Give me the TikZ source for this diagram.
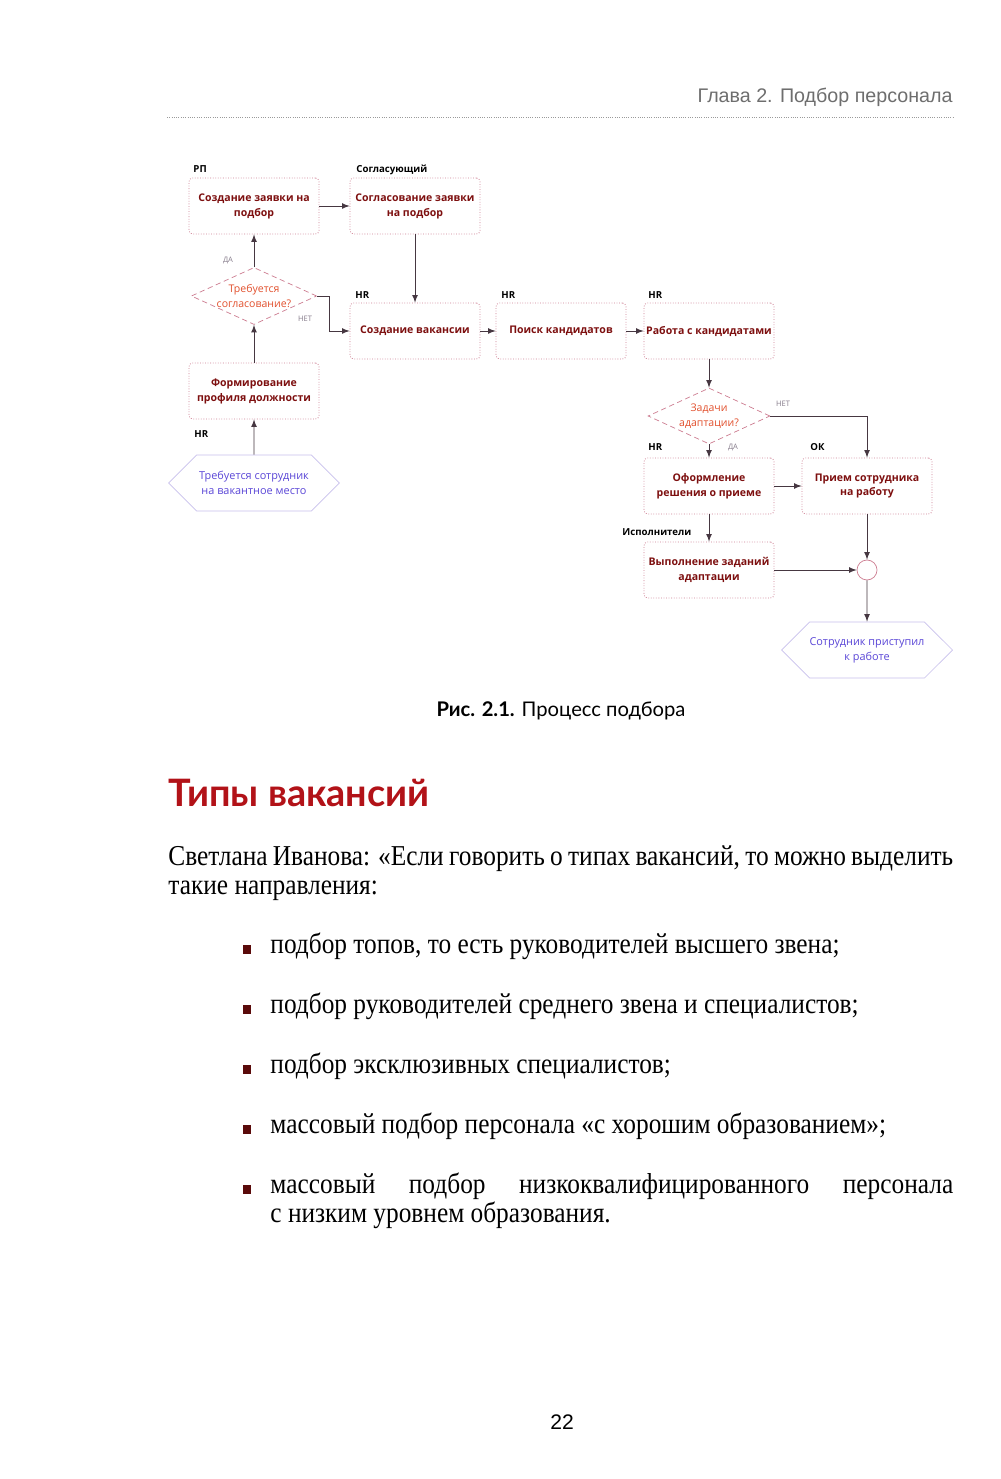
\documentclass[tikz,border=0pt]{standalone}
\usepackage{fontspec}
\setmainfont{Liberation Serif}
\newfontfamily\diafont{Open Sans}
\newfontfamily\capfont{Lato}
\newfontfamily\pagefont{Liberation Sans}
\newfontfamily\bodyfont[FakeStretch=0.88]{Liberation Serif}
\usetikzlibrary{shapes.geometric,shapes.symbols,positioning}
\hyphenpenalty=10000

\definecolor{framepink}{RGB}{205,125,145}
\definecolor{boxtext}{RGB}{125,15,15}
\definecolor{asktext}{RGB}{226,80,45}
\definecolor{eventblue}{RGB}{90,70,215}
\definecolor{eventline}{RGB}{200,192,236}
\definecolor{flowline}{RGB}{70,55,65}
\definecolor{notegray}{RGB}{135,125,140}
\definecolor{headred}{RGB}{178,18,24}
\definecolor{bulletred}{RGB}{90,10,10}
\definecolor{pagegray}{RGB}{110,110,110}

\begin{document}
\begin{tikzpicture}[x=0.02cm,y=-0.02cm,>=latex,line width=0.5pt,
  proc/.style={draw=framepink,densely dotted,line width=0.45pt,rounded corners=2pt,
    minimum width=2.6cm,minimum height=1.12cm,inner sep=1pt,align=center,
    text=boxtext,font=\diafont\bfseries\fontsize{6}{8.5}\selectfont},
  ask/.style={diamond,draw=framepink,densely dashed,line width=0.4pt,aspect=2.2,
    inner sep=0pt,minimum width=2.44cm,minimum height=1.12cm,align=center,
    text=asktext,font=\diafont\fontsize{6}{8.5}\selectfont},
  event/.style={signal,signal to=west and east,draw=eventline,line width=0.4pt,
    minimum width=3.42cm,minimum height=1.12cm,inner sep=0pt,align=center,
    text=eventblue,font=\diafont\fontsize{6.2}{8.5}\selectfont},
  joindot/.style={circle,draw=framepink,line width=0.4pt,minimum size=0.4cm,inner sep=0pt},
  role/.style={font=\diafont\bfseries\fontsize{5.5}{6}\selectfont,inner sep=0pt,anchor=base west},
  answer/.style={font=\diafont\fontsize{4.3}{5}\selectfont,text=notegray,inner sep=0pt},
  flow/.style={->,draw=flowline,line width=0.5pt},
  bodytext/.style={font=\bodyfont\fontsize{16.4}{16.7}\selectfont,
    inner sep=0pt,align=justify,anchor=base west},
  bulletsq/.style={fill=bulletred,minimum width=0.16cm,minimum height=0.17cm,inner sep=0pt,anchor=south},
]
  \fill[white] (0,0) rectangle (1000,1479);
  \useasboundingbox (0,0) rectangle (1000,1479);

  % running head
  \node[font=\pagefont\fontsize{11.2}{13}\selectfont,text=pagegray,anchor=base east,inner sep=0pt]
    (chapter) at (953,103) {Глава 2. Подбор персонала};
  \coordinate (ruleL) at (167,117);
  \coordinate (ruleR) at (953,117);
  \draw[pagegray!70,line width=0.3pt,densely dotted] (ruleL) -- (ruleR);

  % first row
  \node[proc] (zayavka) at (254,206) {Создание заявки на\\подбор};
  \node[proc] (soglas) at (415,206) {Согласование заявки\\на подбор};
  \node[role] (rpLbl) at (193,173) {РП};
  \node[role] (soglLbl) at (356,173) {Согласующий};

  % left column
  \node[ask] (nuzhno) at (254,296) {Требуется\\согласование?};
  \node[proc] (profil) at (254,391) {Формирование\\профиля должности};
  \node[event] (start) at (254,483) {Требуется сотрудник\\на вакантное место};
  \node[role] (hrProf) at (194,438) {HR};
  \node[answer] (daA) at (228,260) {ДА};
  \node[answer] (netA) at (305,319) {НЕТ};

  % HR row
  \node[proc] (vakans) at (415,331) {Создание вакансии};
  \node[proc] (poisk) at (561,331) {Поиск кандидатов};
  \node[proc] (rabota) at (709,331) {Работа с кандидатами};
  \node[role] (hrVak) at (355,299) {HR};
  \node[role] (hrPoisk) at (501,299) {HR};
  \node[role] (hrRab) at (648,299) {HR};

  % adaptation
  \node[ask] (adapt) at (709,416) {Задачи\\адаптации?};
  \node[proc] (reshenie) at (709,486) {Оформление\\решения о приеме};
  \node[proc] (priem) at (867,486) {Прием сотрудника\\на работу};
  \node[proc] (zadania) at (709,570) {Выполнение заданий\\адаптации};
  \node[joindot] (sliyanie) at (867,570) {};
  \node[event] (finish) at (867,650) {Сотрудник приступил\\к работе};
  \node[role] (hrResh) at (648,451) {HR};
  \node[role] (okLbl) at (810,451) {ОК};
  \node[role] (ispLbl) at (622,535) {Исполнители};
  \node[answer] (netB) at (783,404) {НЕТ};
  \node[answer] (daB) at (733,447) {ДА};

  % connectors
  \draw[flow] (zayavka) -- (soglas);
  \draw[flow] (soglas) -- (vakans);
  \draw[flow] (nuzhno) -- (zayavka);
  \draw[flow] (profil) -- (nuzhno);
  \draw[flow] (start) -- (profil);
  \draw[flow] (nuzhno.east) -- ++(12,0) |- (vakans.west);
  \draw[flow] (vakans) -- (poisk);
  \draw[flow] (poisk) -- (rabota);
  \draw[flow] (rabota) -- (adapt);
  \draw[flow] (adapt) -- (reshenie);
  \draw[flow] (adapt.east) -| (priem.north);
  \draw[flow] (reshenie) -- (priem);
  \draw[flow] (reshenie) -- (zadania);
  \draw[flow] (zadania) -- (sliyanie);
  \draw[flow] (priem) -- (sliyanie);
  \draw[flow] (sliyanie) -- (finish);

  % caption and heading
  \node[font=\capfont\fontsize{11.5}{13}\selectfont,anchor=base,inner sep=0pt]
    (caption) at (561,716) {\textbf{Рис. 2.1.} Процесс подбора};
  \node[font=\capfont\bfseries\fontsize{21.5}{25}\selectfont,text=headred,anchor=base west,inner sep=0pt]
    (heading) at (168,806) {Типы вакансий};

  % body text
  \node[bodytext,text width=15.7cm] (intro) at (168,865)
    {Светлана Иванова: «Если говорить о типах вакансий, то можно выделить\linebreak такие направления:};

  \node[bulletsq] (sq1) at (247,954) {};
  \node[bodytext,text width=13.66cm] (item1) at (270,953) {подбор топов, то есть руководителей высшего звена;};
  \node[bulletsq] (sq2) at (247,1014) {};
  \node[bodytext,text width=13.66cm] (item2) at (270,1013) {подбор руководителей среднего звена и специалистов;};
  \node[bulletsq] (sq3) at (247,1074) {};
  \node[bodytext,text width=13.66cm] (item3) at (270,1073) {подбор эксклюзивных специалистов;};
  \node[bulletsq] (sq4) at (247,1134) {};
  \node[bodytext,text width=13.66cm] (item4) at (270,1133) {массовый подбор персонала «с хорошим образованием»;};
  \node[bulletsq] (sq5) at (247,1194) {};
  \node[bodytext,text width=13.66cm] (item5) at (270,1193)
    {массовый подбор низкоквалифицированного персонала\linebreak с низким уровнем образования.};

  % page number
  \node[font=\pagefont\fontsize{12}{14}\selectfont,anchor=base,inner sep=0pt] (pageno) at (562,1429) {22};
\end{tikzpicture}
\end{document}
